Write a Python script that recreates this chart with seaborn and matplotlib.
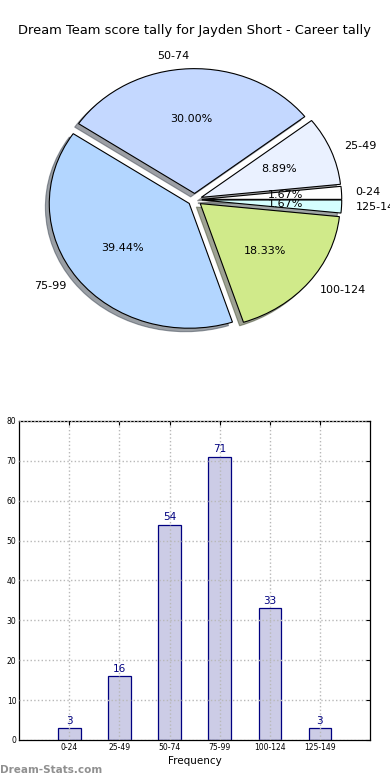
import numpy as np
import matplotlib
matplotlib.use('Agg')
import matplotlib.pyplot as plt
import seaborn as sns

ranges = ['0-24', '25-49', '50-74', '75-99', '100-124', '125-149']
counts = [3, 16, 54, 71, 33, 3]
pie_colors = ['#ffffff', '#eaf1ff', '#c4d8ff', '#b3d6ff', '#d0ea8a', '#d5ffff']
title = 'Dream Team score tally for Jayden Short - Career tally'

sns.set_style('white')
plt.rcParams['font.family'] = ['DejaVu Sans']
plt.rcParams['text.color'] = 'black'
plt.rcParams['axes.labelcolor'] = 'black'
plt.rcParams['xtick.color'] = 'black'
plt.rcParams['ytick.color'] = 'black'

fig = plt.figure(figsize=(3.9, 7.8), dpi=100)

# pie (old style, not forced circular)
ax1 = fig.add_axes([0.051, 0.544, 0.897, 0.40])
ax1.pie(counts, labels=ranges, colors=pie_colors, explode=[0.05] * len(counts),
        autopct='%.2f%%', shadow=True, startangle=0,
        wedgeprops=dict(edgecolor='black', linewidth=0.8),
        textprops=dict(fontsize=8, color='black'))
ax1.set_aspect('auto')
ax1.set_xlim(-1.25, 1.25)
ax1.set_ylim(-1.25, 1.25)
fig.text(0.5, 0.961, title, ha='center', va='center', fontsize=9.4)

# bars
ax2 = fig.add_axes([0.049, 0.0513, 0.9, 0.409])
sns.barplot(x=ranges, y=counts, ax=ax2, width=0.45, color='#cccce6',
            edgecolor='navy', linewidth=0.9, saturation=1)
for i, v in enumerate(counts):
    ax2.text(i, v + 0.6, str(v), ha='center', va='bottom', fontsize=7.5, color='navy')
ax2.set_xlim(-1, 6)
ax2.set_ylim(0, 80)
ax2.set_yticks(range(0, 81, 10))
ax2.tick_params(labelsize=5.5, direction='in', top=True, right=True, length=3, pad=2)
ax2.grid(True, linestyle=':', color='#b8b8b8', linewidth=1)
ax2.set_axisbelow(False)
for b in ax2.patches:
    b.set_zorder(1)
ax2.set_xlabel('Frequency', fontsize=7.5, labelpad=3)
ax2.set_ylabel('')
for s in ax2.spines.values():
    s.set_color('black')
    s.set_linewidth(0.9)

fig.text(0.0, 0.013, 'Dream-Stats.com', fontsize=7.5, color='#909090',
         fontweight='bold', ha='left', va='center')

fig.savefig('out.png', dpi=100)
